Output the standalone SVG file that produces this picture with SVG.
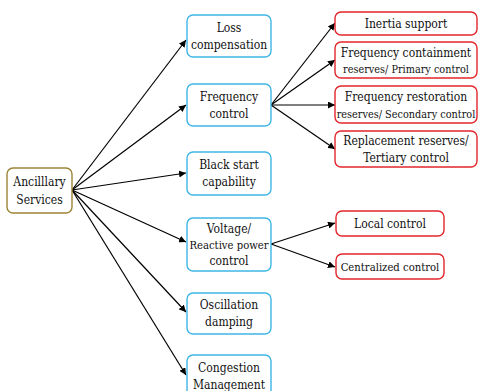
<svg xmlns="http://www.w3.org/2000/svg" width="478" height="391" viewBox="0 0 478 391">
<defs>
<marker id="ah" viewBox="0 0 10 10" refX="10" refY="5" markerWidth="7" markerHeight="7" markerUnits="userSpaceOnUse" orient="auto">
<path d="M0,0 L10,5 L0,10 z" fill="#000"/>
</marker>
<style>
.b{fill:#fff;stroke:#3fb6e6;stroke-width:1.4}
.r{fill:#fff;stroke:#e3262c;stroke-width:1.4}
.g{fill:#fff;stroke:#9c8437;stroke-width:1.4}
.t text{font-family:'DejaVu Serif Condensed','DejaVu Serif',serif;font-stretch:condensed;font-size:12px;fill:#111;text-anchor:middle}
.t text.s{font-size:10.8px}
.t text.m{font-size:11.2px}
.c line{stroke:#000;stroke-width:1.2;marker-end:url(#ah)}
</style>
</defs>
<rect width="478" height="391" fill="#fff"/>
<g class="c" id="connectors">
<line x1="72" y1="190" x2="186" y2="40"/>
<line x1="72" y1="190" x2="186" y2="105"/>
<line x1="72" y1="190" x2="186" y2="173"/>
<line x1="72" y1="190" x2="186" y2="242"/>
<line x1="72" y1="190" x2="186" y2="312"/>
<line x1="72" y1="190" x2="186" y2="375"/>
<line x1="271" y1="105" x2="335" y2="23"/>
<line x1="271" y1="105" x2="335" y2="60"/>
<line x1="271" y1="105" x2="335" y2="105"/>
<line x1="271" y1="105" x2="335" y2="149"/>
<line x1="271" y1="244" x2="335" y2="223"/>
<line x1="271" y1="244" x2="335" y2="267"/>
</g>
<g class="t">
<g id="ancillary"><rect class="g" x="7" y="168" width="65" height="45" rx="6"/><text x="39.5" y="186">Ancilllary</text><text x="39.5" y="204">Services</text></g>
<g id="loss"><rect class="b" x="187" y="15" width="84" height="42" rx="6"/><text x="229" y="32">Loss</text><text x="229" y="49">compensation</text></g>
<g id="freq"><rect class="b" x="187" y="84" width="84" height="42" rx="6"/><text x="229" y="101">Frequency</text><text x="229" y="118">control</text></g>
<g id="blackstart"><rect class="b" x="187" y="152" width="84" height="43" rx="6"/><text x="229" y="169">Black start</text><text x="229" y="186">capability</text></g>
<g id="voltage"><rect class="b" x="187" y="218" width="84" height="53" rx="6"/><text x="229" y="233">Voltage/</text><text class="m" x="229" y="249">Reactive power</text><text x="229" y="265">control</text></g>
<g id="oscillation"><rect class="b" x="187" y="293" width="84" height="41" rx="6"/><text x="229" y="309">Oscillation</text><text x="229" y="326">damping</text></g>
<g id="congestion"><rect class="b" x="187" y="355" width="84" height="45" rx="6"/><text x="229" y="372">Congestion</text><text x="229" y="389">Management</text></g>
<g id="inertia"><rect class="r" x="335" y="12" width="142" height="23" rx="6"/><text x="406" y="28">Inertia support</text></g>
<g id="fcr"><rect class="r" x="335" y="42" width="142" height="36" rx="6"/><text x="406" y="57">Frequency containment</text><text class="s" x="406" y="73">reserves/ Primary control</text></g>
<g id="frr"><rect class="r" x="335" y="86" width="142" height="37" rx="6"/><text x="406" y="101">Frequency restoration</text><text class="s" x="406" y="118">reserves/ Secondary control</text></g>
<g id="rr"><rect class="r" x="335" y="131" width="142" height="36" rx="6"/><text x="406" y="145">Replacement reserves/</text><text x="406" y="162">Tertiary control</text></g>
<g id="local"><rect class="r" x="336" y="211" width="108" height="25" rx="6"/><text x="390" y="228">Local control</text></g>
<g id="central"><rect class="r" x="336" y="254" width="108" height="25" rx="6"/><text class="m" x="390" y="271">Centralized control</text></g>
</g>
</svg>
